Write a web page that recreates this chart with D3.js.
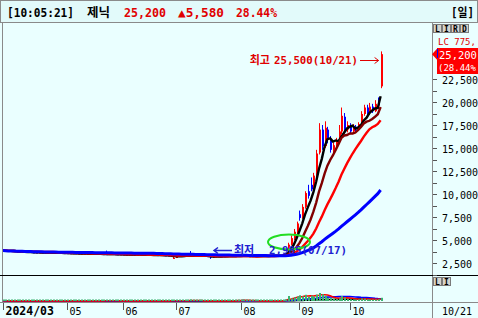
<!DOCTYPE html>
<html>
<head>
<meta charset="utf-8">
<script src="https://cdn.jsdelivr.net/npm/d3@7/dist/d3.min.js"></script>
<style>
body{margin:0;overflow:hidden;background:#eaffff}
text{font-family:'DejaVu Sans Mono','Noto Sans CJK KR',monospace}
</style>
</head>
<body>
<script>
// 일봉 데이터 (2024/03/28 ~ 10/21)
var dates = ["03/28","03/29",
  "04/01","04/02","04/03","04/04","04/05","04/08","04/09","04/11","04/12","04/15","04/16","04/17","04/18","04/19","04/22","04/23","04/24","04/25","04/26","04/29","04/30",
  "05/02","05/03","05/07","05/08","05/09","05/10","05/13","05/14","05/16","05/17","05/20","05/21","05/22","05/23","05/24","05/27","05/28","05/29","05/30","05/31",
  "06/03","06/04","06/05","06/07","06/10","06/11","06/12","06/13","06/14","06/17","06/18","06/19","06/20","06/21","06/24","06/25","06/26","06/27","06/28",
  "07/01","07/02","07/03","07/04","07/05","07/08","07/09","07/10","07/11","07/12","07/15","07/16","07/17","07/18","07/19","07/22","07/23","07/24","07/25","07/26","07/29","07/30","07/31",
  "08/01","08/02","08/05","08/06","08/07","08/08","08/09","08/12","08/13","08/14","08/16","08/19","08/20","08/21","08/22","08/23","08/26","08/27","08/28","08/29","08/30",
  "09/02","09/03","09/04","09/05","09/06","09/09","09/10","09/11","09/12","09/13","09/19","09/20","09/23","09/24","09/25","09/26","09/27","09/30",
  "10/02","10/04","10/07","10/08","10/10","10/11","10/14","10/15","10/16","10/17","10/18","10/21"];

var opens = [3800,3850,3820,3780,3800,3750,3720,3700,3690,3680,
  3700,3660,3640,3620,3650,3640,3600,3610,3620,3600,
  3590,3600,3580,3570,3560,3550,3560,3540,3520,3530,
  3510,3500,3520,3490,3480,3500,3470,3460,3450,3480,
  3460,3450,3430,3440,3420,3410,3430,3400,3390,3410,
  3400,3380,3370,3390,3380,3360,3350,3370,3340,3330,
  3300,3000,3050,3250,3300,3320,3310,3450,3380,3350,
  3320,3300,3280,3250,3200,3100,3180,3220,3250,3240,
  3230,3250,3260,3240,3250,3300,3280,3350,3200,3230,
  3250,3240,3260,3250,3270,3260,3280,3290,3300,3310,
  3320,3350,3500,4500,5200,5900,7800,7400,8600,10300,
  11000,10500,12000,14500,17000,15200,17000,16000,14800,15300,
  15800,16800,18400,17000,17500,16800,17300,17000,17600,18700,
  19400,18800,19500,19000,20200,21700];

var highs = [3900,3870,3840,3830,3810,3770,3740,3720,3710,3730,
  3710,3670,3650,3670,3660,3650,3630,3640,3630,3610,
  3620,3610,3590,3580,3570,3580,3570,3550,3550,3540,
  3520,3540,3530,3500,3520,3510,3480,3850,3500,3490,
  3470,3460,3460,3450,3430,3440,3440,3410,3420,3420,
  3410,3390,3400,3400,3390,3370,3380,3380,3350,3340,
  3310,3150,3280,3320,3340,3330,3350,3800,3390,3360,
  3330,3310,3290,3260,3210,3200,3230,3260,3260,3250,
  3260,3270,3270,3260,3420,3310,3450,3360,3240,3260,
  3260,3270,3270,3280,3280,3290,3300,3310,3320,3330,
  3380,3600,4700,5500,6200,7000,8200,8900,10300,11000,
  11800,12300,14800,17700,17500,17900,17300,16300,15600,16100,
  17500,19400,18800,17900,17700,17600,17500,17800,19000,19700,
  19700,19900,19800,20200,20500,25500];

var lows = [3780,3800,3760,3770,3730,3700,3680,3670,3660,3670,
  3640,3620,3600,3610,3620,3580,3590,3600,3580,3570,
  3580,3560,3550,3540,3530,3540,3520,3500,3510,3490,
  3480,3490,3470,3460,3470,3450,3440,3430,3440,3440,
  3430,3410,3420,3400,3390,3400,3390,3370,3380,3380,
  3360,3350,3360,3360,3340,3330,3340,3320,3310,3280,
  3230,2980,3040,3240,3290,3290,3300,3350,3330,3310,
  3290,3270,3240,3190,2950,3090,3170,3210,3230,3220,
  3220,3240,3230,3230,3240,3270,3270,3150,3180,3220,
  3230,3230,3240,3240,3250,3250,3270,3280,3290,3300,
  3310,3340,3450,4400,5000,5700,7100,7300,8400,9500,
  10300,10400,11800,14300,14800,15000,15500,14500,14200,15000,
  15600,16500,16800,16700,16500,16600,16800,16900,17500,18500,
  18600,18600,18800,18900,19300,21500];

var closes = [3850,3820,3780,3800,3750,3720,3700,3690,3680,3700,
  3660,3640,3620,3650,3640,3600,3610,3620,3600,3590,
  3600,3580,3570,3560,3550,3560,3540,3520,3530,3510,
  3500,3520,3490,3480,3500,3470,3460,3450,3480,3460,
  3450,3430,3440,3420,3410,3430,3400,3390,3410,3400,
  3380,3370,3390,3380,3360,3350,3370,3340,3330,3300,
  3250,3050,3250,3300,3320,3310,3330,3380,3350,3320,
  3300,3280,3250,3200,3100,3180,3220,3250,3240,3230,
  3250,3260,3240,3250,3300,3280,3350,3200,3230,3250,
  3240,3260,3250,3270,3260,3280,3290,3300,3310,3320,
  3350,3500,4500,5200,5900,6800,7400,8600,10100,9800,
  10500,12000,14400,17000,15200,17200,16000,14800,15300,15800,
  16800,18500,17000,17500,16800,17300,17000,17600,18700,19400,
  18800,19500,19000,19800,19620,25200];

// 거래량 (천주)
var volumes = [120,90,80,70,85,75,60,65,70,80,
  75,70,60,65,60,70,55,60,58,62,
  60,55,58,60,55,50,52,60,55,50,
  48,55,50,52,60,50,48,420,90,60,
  55,50,48,52,50,55,48,45,50,48,
  45,42,50,48,45,44,50,45,48,60,
  90,320,150,80,60,55,70,950,200,90,
  70,60,65,80,160,90,70,60,55,50,
  55,60,50,70,720,150,820,220,90,70,
  60,55,50,60,55,60,65,70,75,90,
  140,900,2800,1500,2000,2500,3200,2600,3500,2400,
  3000,2500,3600,4500,3800,3000,1800,1600,1300,1200,
  1500,2800,2000,1200,1000,900,800,900,1400,1300,
  1000,900,800,900,1000,1800];

var monthLabels = ["2024/03","05","06","07","08","09","10"];
var monthStarts = ["03/28","05/02","06/03","07/01","08/01","09/02","10/02"];
var yTicks = [2500,5000,7500,10000,12500,15000,17500,20000,22500];

var maPeriods = [5,10,20,55];
var maColors = ["#000000","#800000","#ff0000","#0000ff"];
var volMaPeriods = [60,20,5];
var volMaColors = ["#000000","#0000ff","#ff0000"];

var timeText = "[10:05:21]";
var stockName = "제닉";
var lastPrice = 25200;
var change = 5580;
var changeRate = "28.44%";
var highLabel = ["최고", "25,500(10/21)"];
var lowLabel = ["최저", "2,985(07/17)"];

var w = 478, h = 318;
var upColor = "#ff0000", downColor = "#0000ff";
var fmt = d3.format(",");

var svg = d3.select("body").append("svg").attr("width", w).attr("height", h);
svg.append("rect").attr("width", w).attr("height", h).attr("fill", "#eaffff");

// 헤더
svg.append("rect").attr("x", 0.5).attr("y", 0.5).attr("width", w - 1).attr("height", 22)
  .attr("fill", "#e2fafa").attr("stroke", "#8a8a8a");

var head = [
  [timeText, 7, "#000", 67],
  [stockName, 87, "#000", 23],
  [fmt(lastPrice), 124, "#e00000", 42],
  ["▲" + fmt(change), 178, "#e00000", 46],
  [changeRate, 236, "#e00000", 41],
  ["[일]", 451, "#000", 23]
];
svg.selectAll("text.head").data(head).enter().append("text")
  .attr("class", "head")
  .attr("x", function(d){ return d[1]; })
  .attr("y", 17)
  .attr("textLength", function(d){ return d[3]; })
  .attr("lengthAdjust", "spacingAndGlyphs")
  .attr("font-size", "12px")
  .attr("font-weight", "bold")
  .attr("fill", function(d){ return d[2]; })
  .text(function(d){ return d[0]; });

// 스케일
var x = d3.scaleLinear().domain([0, 153]).range([2.6, 431]);
var y = d3.scaleLinear().domain([2500, 20000]).range([263, 102]);
var yv = d3.scaleLinear().domain([0, d3.max(volumes) * 3]).range([301, 277]);

svg.append("clipPath").attr("id", "clipMain").append("rect")
  .attr("x", 3).attr("y", 24).attr("width", 429).attr("height", 251);
svg.append("clipPath").attr("id", "clipVol").append("rect")
  .attr("x", 3).attr("y", 277).attr("width", 429).attr("height", 25);

var main = svg.append("g").attr("clip-path", "url(#clipMain)");
var idx = d3.range(dates.length);

function col(i){ return closes[i] >= opens[i] ? upColor : downColor; }

main.selectAll("line.wick").data(idx).enter().append("line")
  .attr("x1", function(i){ return Math.round(x(i)) + 0.5; })
  .attr("x2", function(i){ return Math.round(x(i)) + 0.5; })
  .attr("y1", function(i){ return y(highs[i]); })
  .attr("y2", function(i){ return y(lows[i]); })
  .attr("stroke", col)
  .attr("stroke-width", 1);

main.selectAll("rect.body").data(idx).enter().append("rect")
  .attr("x", function(i){ return Math.round(x(i)); })
  .attr("y", function(i){ return y(Math.max(opens[i], closes[i])); })
  .attr("width", 2)
  .attr("height", function(i){ return Math.max(1, Math.abs(y(opens[i]) - y(closes[i]))); })
  .attr("fill", col);

function ma(arr, n){
  return arr.map(function(d, i){
    return d3.mean(arr.slice(Math.max(0, i - n + 1), i + 1));
  });
}

var line = d3.line().x(function(d, i){ return x(i); }).y(function(d){ return y(d); });
maPeriods.forEach(function(p, k){
  main.append("path").datum(ma(closes, p))
    .attr("d", line)
    .attr("fill", "none")
    .attr("stroke", maColors[k])
    .attr("stroke-width", k == 3 ? 3 : 2.4);
});

// 최고/최저 표시
main.append("ellipse").attr("cx", 289).attr("cy", 242).attr("rx", 21).attr("ry", 7.5)
  .attr("fill", "none").attr("stroke", "#22dd22").attr("stroke-width", 2);

var hi = main.append("g").attr("fill", "#e00000").attr("font-weight", "bold");
hi.append("text").attr("x", 270).attr("y", 64).attr("text-anchor", "end").attr("font-size", "11px").text(highLabel[0]);
hi.append("text").attr("x", 358).attr("y", 64).attr("text-anchor", "end").attr("font-size", "11px")
  .attr("textLength", 84).attr("lengthAdjust", "spacingAndGlyphs").text(highLabel[1]);
var hx = x(dates.length - 1);
main.append("path").attr("d", "M360,60.5H" + (hx - 2) + "M" + (hx - 6) + ",57.5L" + (hx - 2) + ",60.5L" + (hx - 6) + ",63.5")
  .attr("fill", "none").attr("stroke", "#e00000").attr("stroke-width", 1);

var lo = main.append("g").attr("fill", "#2020d0").attr("font-weight", "bold");
lo.append("text").attr("x", 234).attr("y", 254).attr("font-size", "11px").text(lowLabel[0]);
lo.append("text").attr("x", 347).attr("y", 254).attr("text-anchor", "end").attr("font-size", "11px")
  .attr("textLength", 78).attr("lengthAdjust", "spacingAndGlyphs").text(lowLabel[1]);
main.append("path").attr("d", "M232,250.5H214M218,247.5L214,250.5L218,253.5")
  .attr("fill", "none").attr("stroke", "#2020d0").attr("stroke-width", 1.5);

// 거래량
var vol = svg.append("g").attr("clip-path", "url(#clipVol)");
var vline = d3.line().x(function(d, i){ return x(i); }).y(function(d){ return yv(d); });
volMaPeriods.forEach(function(p, k){
  vol.append("path").datum(ma(volumes, p))
    .attr("d", vline)
    .attr("fill", "none")
    .attr("stroke", volMaColors[k])
    .attr("stroke-width", 1.6);
});
vol.selectAll("rect").data(idx).enter().append("rect")
  .attr("x", function(i){ return Math.round(x(i)); })
  .attr("y", function(i){ return Math.min(299.5, yv(volumes[i])); })
  .attr("width", 2)
  .attr("height", function(i){ return Math.max(1.5, 301 - yv(volumes[i])); })
  .attr("fill", "#3cb371");

// 테두리
svg.append("line").attr("x1", 2.5).attr("x2", 2.5).attr("y1", 23).attr("y2", 302).attr("stroke", "#8a8a8a");
svg.append("line").attr("x1", 432.5).attr("x2", 432.5).attr("y1", 23).attr("y2", h).attr("stroke", "#8a8a8a");
svg.append("line").attr("x1", 0).attr("x2", w).attr("y1", 275.5).attr("y2", 275.5).attr("stroke", "#000");
svg.append("line").attr("x1", 0).attr("x2", w).attr("y1", 302.5).attr("y2", 302.5).attr("stroke", "#8a8a8a");

// 가격축
var minor = d3.range(1250, 23750, 1250);
svg.selectAll("line.ytick").data(minor).enter().append("line")
  .attr("x1", 433).attr("x2", 437)
  .attr("y1", function(d){ return Math.round(y(d)) + 0.5; })
  .attr("y2", function(d){ return Math.round(y(d)) + 0.5; })
  .attr("stroke", "#555");
svg.selectAll("text.ylab").data(yTicks).enter().append("text")
  .attr("x", 442)
  .attr("y", function(d){ return y(d) + 4.5; })
  .attr("font-size", "10px")
  .attr("fill", "#000")
  .text(function(d){ return fmt(d); });

// 현재가 박스
svg.append("rect").attr("x", 437).attr("y", 48).attr("width", 41).attr("height", 26).attr("fill", "#ff0000");
svg.append("path").attr("d", "M432," + y(lastPrice) + "L437," + (y(lastPrice) - 5.5) + "V" + (y(lastPrice) + 5.5) + "Z").attr("fill", "#ff0000");
svg.append("line").attr("x1", 437.5).attr("x2", 437.5).attr("y1", 49).attr("y2", 58).attr("stroke", "#0000ff");
svg.append("text").attr("x", 439).attr("y", 59).attr("font-size", "10.5px").attr("fill", "#fff").text(fmt(lastPrice));
svg.append("text").attr("x", 438).attr("y", 71).attr("font-size", "9px").attr("fill", "#fff").text("(" + changeRate);
svg.append("text").attr("x", 438).attr("y", 45).attr("font-size", "9px").attr("fill", "#e00000").text("LC 775,");

// 버튼
function buttons(labels, yy){
  var g = svg.append("g");
  g.selectAll("rect").data(labels).enter().append("rect")
    .attr("x", function(d, i){ return 433.5 + i * 9; }).attr("y", yy + 0.5)
    .attr("width", 8).attr("height", 8)
    .attr("fill", "#d6d3cc").attr("stroke", "#7a7a7a");
  g.selectAll("text").data(labels).enter().append("text")
    .attr("x", function(d, i){ return 437.5 + i * 9; }).attr("y", yy + 7.5)
    .attr("text-anchor", "middle").attr("font-size", "8px").attr("font-weight", "bold")
    .attr("font-family", "'DejaVu Sans'")
    .text(function(d){ return d; });
}
buttons(["L","I","R","D"], 24);
buttons(["L","I"], 277);

// 날짜축
var mt = monthStarts.map(function(d){ return dates.indexOf(d); });
svg.selectAll("line.xtick").data(mt).enter().append("line")
  .attr("x1", function(i){ return Math.round(x(i)) + 0.5; })
  .attr("x2", function(i){ return Math.round(x(i)) + 0.5; })
  .attr("y1", 303).attr("y2", 310)
  .attr("stroke", "#555");
svg.selectAll("text.xlab").data(mt).enter().append("text")
  .attr("x", function(i){ return Math.round(x(i)) + 2.5; })
  .attr("y", 315)
  .attr("font-size", function(d, k){ return k == 0 ? "11.5px" : "10px"; })
  .attr("font-weight", function(d, k){ return k == 0 ? "bold" : "normal"; })
  .text(function(d, k){ return monthLabels[k]; });
svg.append("text").attr("x", 442).attr("y", 315).attr("font-size", "10px").text(dates[dates.length - 1]);
</script>
</body>
</html>
